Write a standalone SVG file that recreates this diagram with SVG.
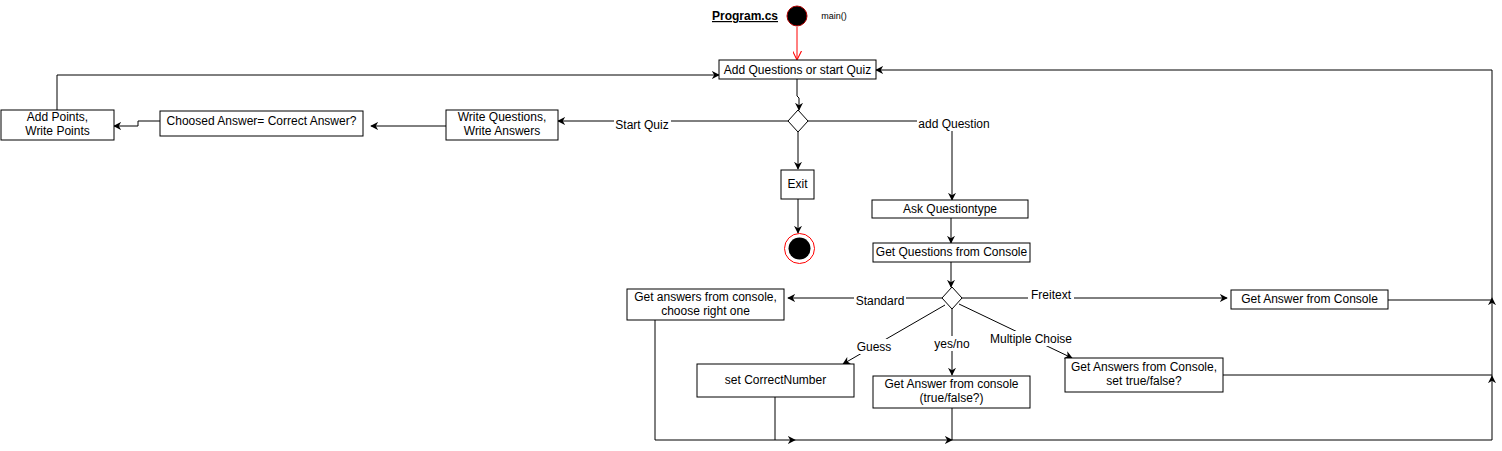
<svg xmlns="http://www.w3.org/2000/svg" width="1502" height="451" viewBox="0 0 1502 451">
<style>
.box{fill:#fff;stroke:#000;stroke-width:1}
.t{font-family:"Liberation Sans",Arial,sans-serif;font-size:12px;fill:#000;text-anchor:middle}
.lbl{font-family:"Liberation Sans",Arial,sans-serif;font-size:12px;fill:#000;text-anchor:middle}
.e{fill:none;stroke:#000;stroke-width:1}
.bg{fill:#fff}
</style>
<defs>
<marker id="a" viewBox="0 0 10 10" refX="9" refY="5" markerWidth="8" markerHeight="8" markerUnits="userSpaceOnUse" orient="auto">
<path d="M0,0 L10,5 L0,10 L3,5 z" fill="#000"/>
</marker>
<marker id="ar" viewBox="0 0 10 10" refX="9" refY="5" markerWidth="9" markerHeight="9" markerUnits="userSpaceOnUse" orient="auto">
<path d="M0,0 L10,5 L0,10" fill="none" stroke="#ff0000" stroke-width="1.2"/>
</marker>
</defs>
<rect width="1502" height="451" fill="#fff"/>

<g id="connectors">
<path class="e" d="M797,27 V59" style="stroke:#ff0000" marker-end="url(#ar)"/>
<path class="e" d="M797,79 V96 L799,98 V110" marker-end="url(#a)"/>
<path class="e" d="M788,121 H558" marker-end="url(#a)"/>
<path class="e" d="M808,121 H952 V200" marker-end="url(#a)"/>
<path class="e" d="M798,132 V169" marker-end="url(#a)"/>
<path class="e" d="M798,199 V233" marker-end="url(#a)"/>
<path class="e" d="M446,126 H371" marker-end="url(#a)"/>
<path class="e" d="M160,121 H138 V126 H114" marker-end="url(#a)"/>
<path class="e" d="M57,110 V75 H719" marker-end="url(#a)"/>
<path class="e" d="M951,218 V243" marker-end="url(#a)"/>
<path class="e" d="M951,262 V287" marker-end="url(#a)"/>
<path class="e" d="M942,298 H788" marker-end="url(#a)"/>
<path class="e" d="M945,305 L843,364" marker-end="url(#a)"/>
<path class="e" d="M952,309 V375" marker-end="url(#a)"/>
<path class="e" d="M959,304 L1072,358" marker-end="url(#a)"/>
<path class="e" d="M962,298 H1227" marker-end="url(#a)"/>
<path class="e" d="M655,320 V440 H795" marker-end="url(#a)"/>
<path class="e" d="M775,397 V440"/>
<path class="e" d="M795,440 H952" marker-end="url(#a)"/>
<path class="e" d="M952,408 V440 H1492 V376" marker-end="url(#a)"/>
<path class="e" d="M1223,375 H1492"/>
<path class="e" d="M1492,376 V298" marker-end="url(#a)"/>
<path class="e" d="M1388,300 H1492"/>
<path class="e" d="M1492,298 V70 H876" marker-end="url(#a)"/>

<rect class="bg" x="614" y="117" width="57" height="15"/>
<text class="lbl" x="642" y="129">Start Quiz</text>
<rect class="bg" x="917" y="116" width="75" height="15"/>
<text class="lbl" x="954" y="128">add Question</text>
<rect class="bg" x="854" y="293" width="52" height="15"/>
<text class="lbl" x="880" y="305">Standard</text>
<rect class="bg" x="1028" y="287" width="46" height="15"/>
<text class="lbl" x="1051" y="299">Freitext</text>
<rect class="bg" x="855" y="339" width="38" height="15"/>
<text class="lbl" x="874" y="351">Guess</text>
<rect class="bg" x="932" y="336" width="40" height="15"/>
<text class="lbl" x="952" y="348">yes/no</text>
<rect class="bg" x="987" y="331" width="88" height="15"/>
<text class="lbl" x="1031" y="343">Multiple Choise</text>
</g>

<g id="title">
<text x="745" y="20" style="font-family:'Liberation Sans',Arial,sans-serif;font-size:12px;font-weight:bold;text-decoration:underline;text-anchor:middle">Program.cs</text>
</g>
<g id="start">
<circle cx="797" cy="16" r="10" fill="#000" stroke="#b20000" stroke-width="1"/>
<text x="834" y="19" style="font-family:'Liberation Sans',Arial,sans-serif;font-size:9px;text-anchor:middle">main()</text>
</g>
<g id="addQuestions">
<rect class="box" x="719" y="60" width="157" height="19"/>
<text class="t" x="797.5" y="74">Add Questions or start Quiz</text>
</g>
<g id="decision1">
<path class="box" d="M798,110 L808,121 L798,132 L788,121 Z"/>
</g>
<g id="exit">
<rect class="box" x="781" y="170" width="33" height="29"/>
<text class="t" x="797.5" y="188">Exit</text>
</g>
<g id="end">
<circle cx="799.5" cy="248.5" r="15" fill="#fff" stroke="#ff0000" stroke-width="1"/>
<circle cx="799.5" cy="248.5" r="11" fill="#000"/>
</g>
<g id="writeQuestions">
<rect class="box" x="446" y="110" width="112" height="30"/>
<text class="t" x="502" y="121">Write Questions,</text>
<text class="t" x="502" y="135">Write Answers</text>
</g>
<g id="choosedAnswer">
<rect class="box" x="160" y="111" width="203" height="25"/>
<text class="t" x="261.5" y="125">Choosed Answer= Correct Answer?</text>
</g>
<g id="addPoints">
<rect class="box" x="1" y="110" width="113" height="30"/>
<text class="t" x="57.5" y="121">Add Points,</text>
<text class="t" x="57.5" y="135">Write Points</text>
</g>
<g id="askQuestiontype">
<rect class="box" x="872" y="200" width="156" height="18"/>
<text class="t" x="950" y="213">Ask Questiontype</text>
</g>
<g id="getQuestions">
<rect class="box" x="873" y="243" width="157" height="19"/>
<text class="t" x="951.5" y="256">Get Questions from Console</text>
</g>
<g id="decision2">
<path class="box" d="M952,287 L962,298 L952,309 L942,298 Z"/>
</g>
<g id="getAnswersStandard">
<rect class="box" x="627" y="289" width="157" height="31"/>
<text class="t" x="705.5" y="301">Get answers from console,</text>
<text class="t" x="705.5" y="315">choose right one</text>
</g>
<g id="setCorrectNumber">
<rect class="box" x="697" y="364" width="157" height="33"/>
<text class="t" x="775.5" y="384">set CorrectNumber</text>
</g>
<g id="getAnswerYesNo">
<rect class="box" x="873" y="376" width="157" height="32"/>
<text class="t" x="951.5" y="388">Get Answer from console</text>
<text class="t" x="951.5" y="402">(true/false?)</text>
</g>
<g id="getAnswersMultiple">
<rect class="box" x="1065" y="358" width="158" height="34"/>
<text class="t" x="1144" y="371">Get Answers from Console,</text>
<text class="t" x="1144" y="385">set true/false?</text>
</g>
<g id="getAnswerFreitext">
<rect class="box" x="1231" y="290" width="157" height="19"/>
<text class="t" x="1309.5" y="303">Get Answer from Console</text>
</g>
</svg>
